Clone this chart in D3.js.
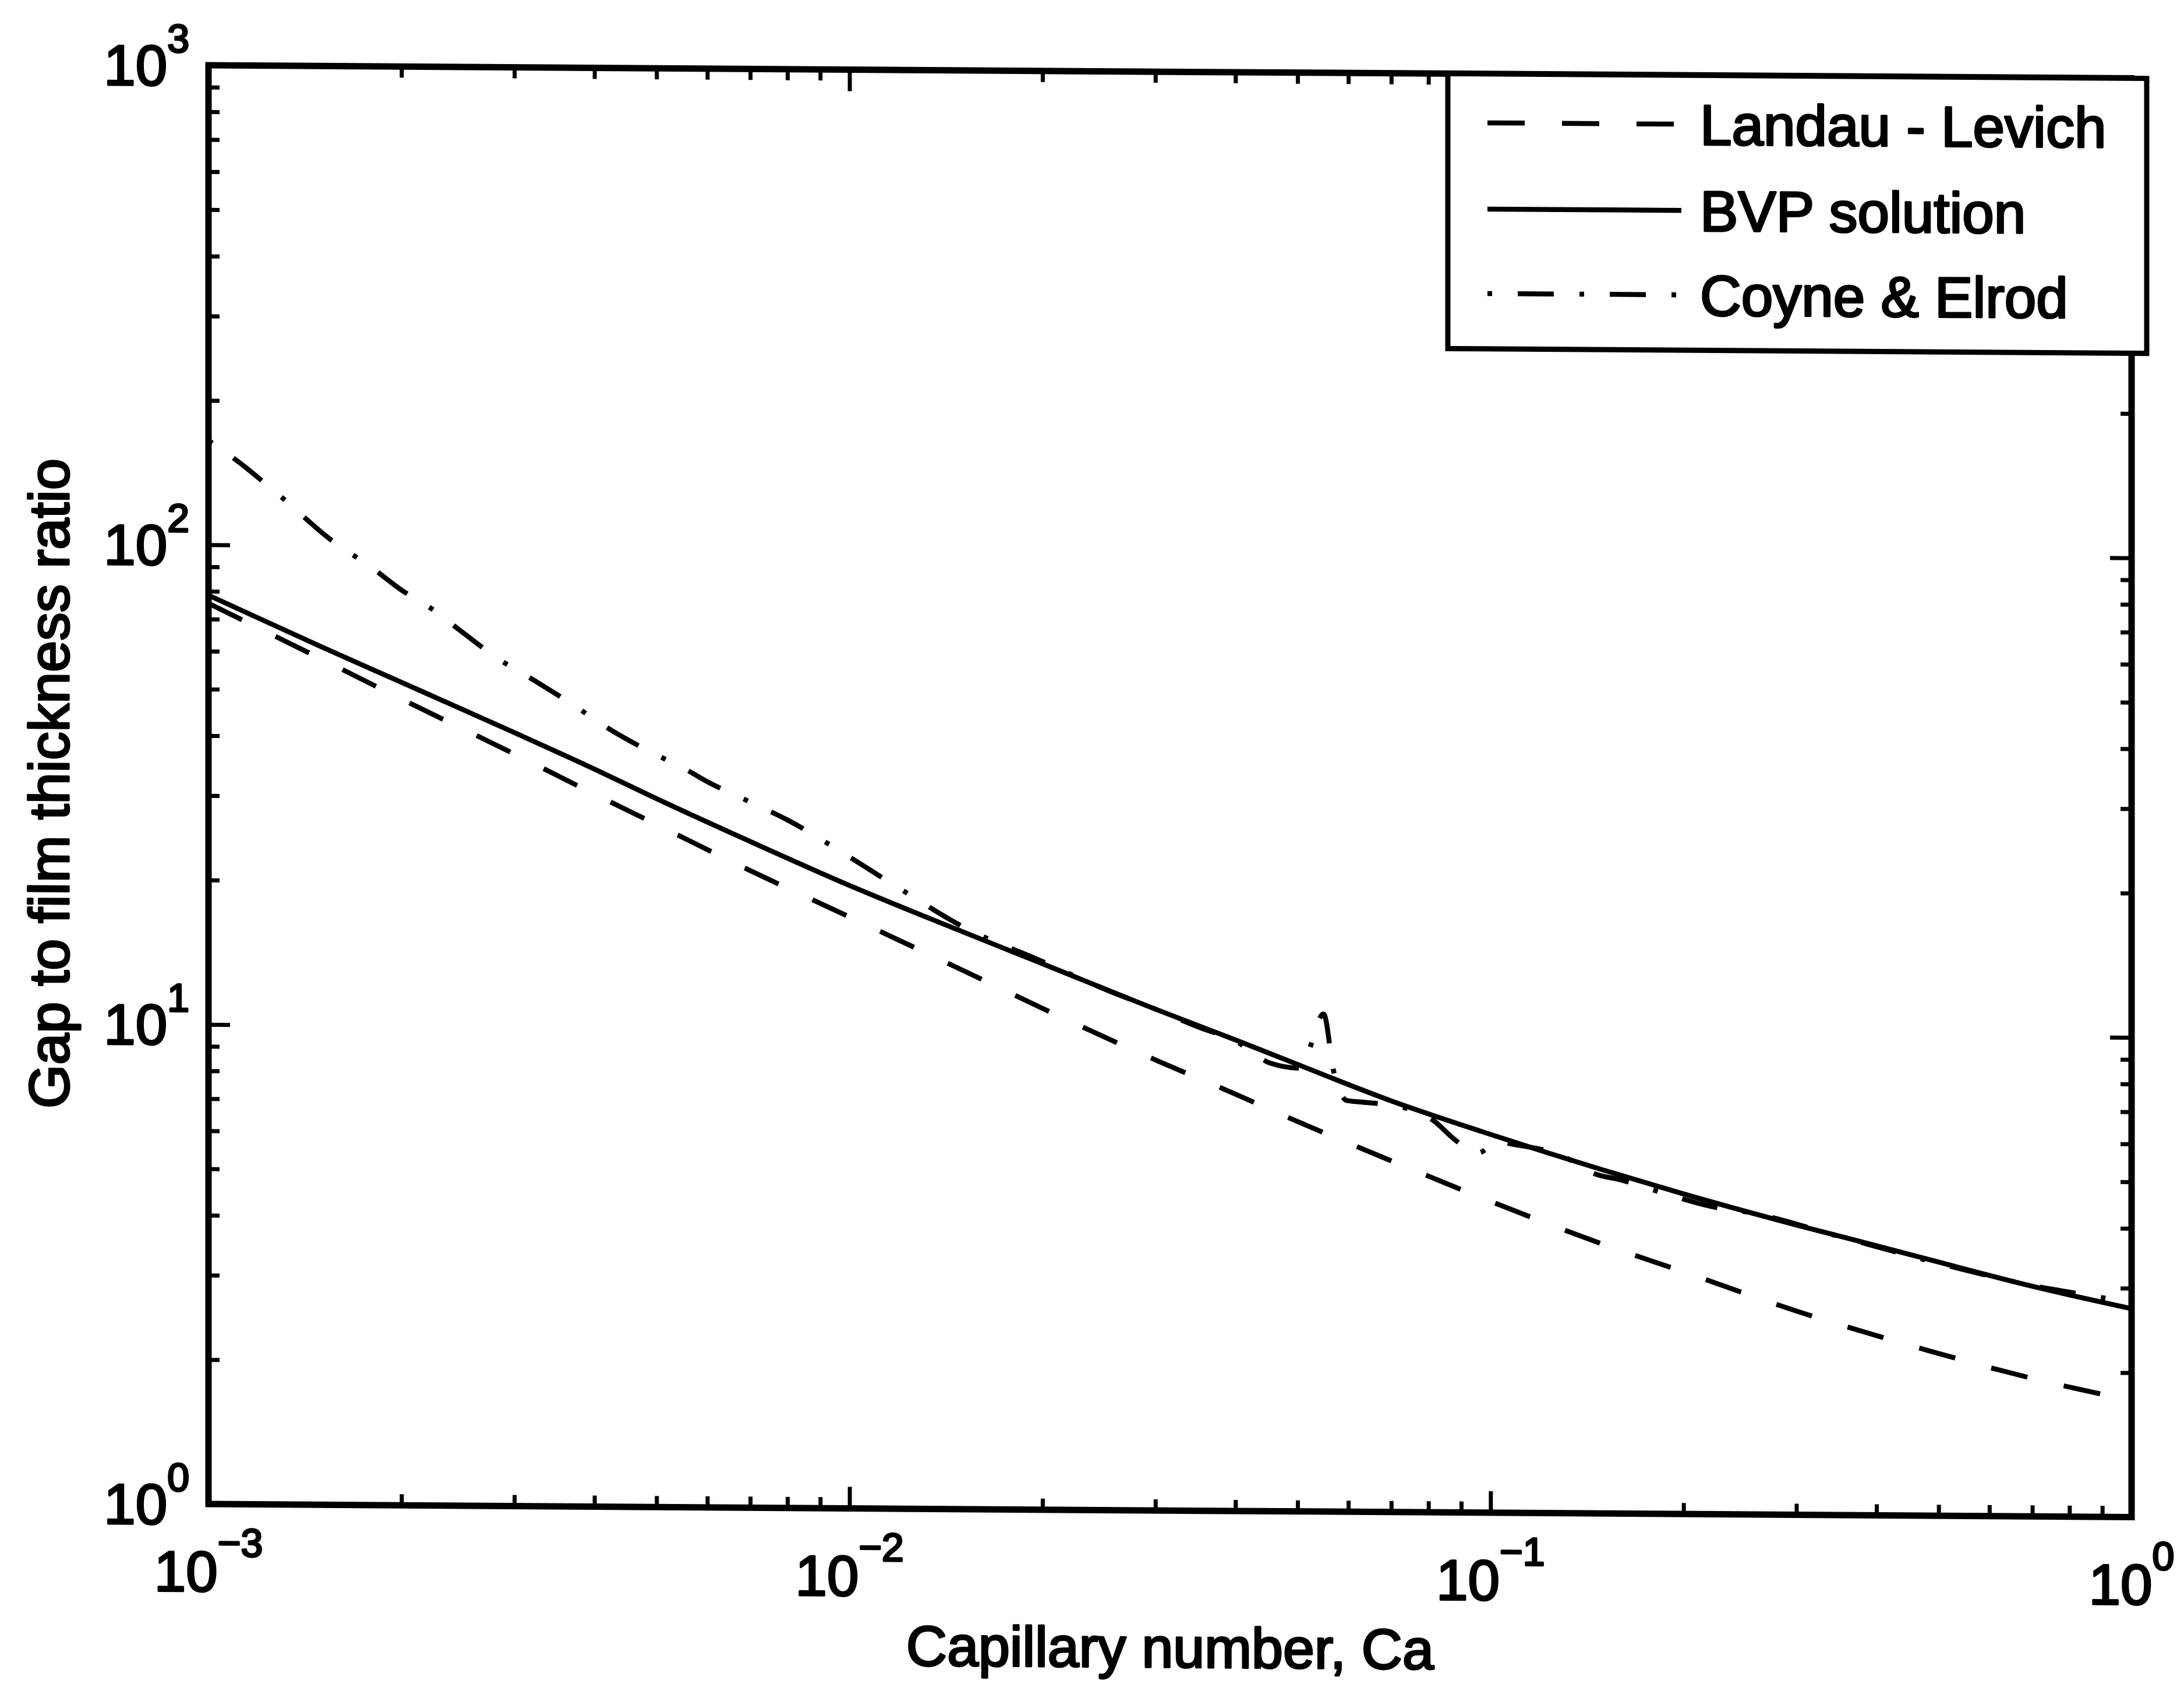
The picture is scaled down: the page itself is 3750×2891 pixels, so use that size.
<!DOCTYPE html>
<html>
<head>
<meta charset="utf-8">
<script src="https://cdn.jsdelivr.net/npm/d3@7"></script>
<style>
  html, body { margin: 0; padding: 0; background: #fff; }
  svg { display: block; }
  text { font-family: "Liberation Sans", Arial, Helvetica, sans-serif; fill: #000; stroke: #000; stroke-width: 3.4px; stroke-linejoin: round; }
</style>
</head>
<body>
<script>
// Capillary numbers at which the two analytical / numerical curves are sampled
const caGrid = [0.001, 0.0015, 0.002, 0.003, 0.004, 0.005, 0.007, 0.01, 0.015, 0.02, 0.03, 0.04,
                0.05, 0.07, 0.1, 0.15, 0.2, 0.3, 0.4, 0.5, 0.7, 1.0];
// Landau - Levich prediction of the gap to film thickness ratio
const landauLevich = [75.5, 58, 48, 37, 30.6, 26.5, 21.3, 17.1, 13.3, 11.1, 8.7, 7.4,
                      6.5, 5.4, 4.46, 3.64, 3.2, 2.66, 2.37, 2.18, 1.94, 1.75];
// Boundary value problem solution
const bvpSolution = [78.5, 61.5, 52, 41, 34.5, 30, 24.5, 19.9, 16.0, 13.75, 11.1, 9.6,
                     8.55, 7.2, 6.15, 5.2, 4.65, 4.02, 3.65, 3.38, 3.02, 2.72];
// Coyne & Elrod result (own sampling, includes the local excursion near Ca = 0.05)
const coyneCa = [0.001, 0.0011, 0.0013, 0.00155, 0.0018, 0.002, 0.0022, 0.0025, 0.0028, 0.0032,
                 0.0037, 0.0042, 0.005, 0.0055, 0.006, 0.007, 0.008, 0.01, 0.012, 0.015, 0.02,
                 0.025, 0.03, 0.035, 0.04, 0.0453, 0.0505, 0.0549, 0.0569, 0.0597, 0.063, 0.0724,
                 0.0816, 0.0878, 0.0954, 0.1033, 0.1064, 0.129, 0.1453, 0.16, 0.1875, 0.2213,
                 0.2567, 0.3527, 0.5, 0.7, 0.85, 1.0];
const coyneElrod = [165, 151, 126, 103, 90, 81, 75, 66, 59, 53,
                    47, 42, 37, 34.8, 32.6, 29.6, 27.2, 22.8, 19.6, 16.4, 13.9,
                    12.2, 11.1, 10.2, 9.55, 8.6, 8.4, 10.9, 8.3, 7.2, 7.15, 7.0,
                    6.55, 6.0, 5.62, 5.95, 5.9, 5.57, 5.11, 4.96, 4.65, 4.38,
                    4.25, 3.80, 3.36, 3.03, 2.9, 2.8];
// Decade exponents used for the major tick labels
const xTickExponents = [-3, -2, -1, 0];
const yTickExponents = [0, 1, 2, 3];
const xTitle = "Capillary number, Ca";
const yTitle = "Gap to film thickness ratio";
const legendLabels = ["Landau - Levich", "BVP solution", "Coyne & Elrod"];

// ---------------------------------------------------------------------------
const W = 3750, H = 2891;
const L = 358, R = 3660, T = 112, B = 2582;
const slant = 0.0068;                       // slight tilt of the whole figure
const slantDeg = Math.atan(slant) * 180 / Math.PI;

const svg = d3.select("body").append("svg")
  .attr("width", W).attr("height", H)
  .attr("viewBox", `0 0 ${W} ${H}`);
svg.append("rect").attr("width", W).attr("height", H).attr("fill", "#fff");

const g = svg.append("g")
  .attr("transform", `translate(0,${-L * slant}) skewY(${slantDeg})`);

const x = d3.scaleLog().domain([1e-3, 1]).range([L, R]);
const y = d3.scaleLog().domain([1, 1000]).range([B, T]);

// clip for the data curves
g.append("defs").append("clipPath").attr("id", "plotClip")
  .append("rect").attr("x", L).attr("y", T).attr("width", R - L).attr("height", B - T);

// ---- curves ----------------------------------------------------------------
const line = d3.line()
  .x(d => x(d[0])).y(d => y(d[1]))
  .curve(d3.curveMonotoneX);

const series = [
  { pts: caGrid.map((c, i) => [c, landauLevich[i]]), dash: "64,64" },
  { pts: caGrid.map((c, i) => [c, bvpSolution[i]]), dash: null },
  { pts: coyneCa.map((c, i) => [c, coyneElrod[i]]), dash: "8,44,62,44" }
];

const curves = g.append("g").attr("clip-path", "url(#plotClip)");
series.forEach(s => {
  curves.append("path")
    .attr("d", line(s.pts))
    .attr("fill", "none")
    .attr("stroke", "#000")
    .attr("stroke-width", 8.5)
    .attr("stroke-linejoin", "round")
    .attr("stroke-dasharray", s.dash);
});

// ---- ticks (inside, mirrored on all four sides) ----------------------------
function decadeMinors(e0, e1) {
  const v = [];
  for (let e = e0; e < e1; e++) for (let m = 2; m <= 9; m++) v.push(m * Math.pow(10, e));
  return v;
}
const xMinor = decadeMinors(-3, 0);
const yMinor = decadeMinors(0, 3);
const xMajor = xTickExponents.map(e => Math.pow(10, e));
const yMajor = yTickExponents.map(e => Math.pow(10, e));

function styleAxis(sel) {
  sel.select(".domain").remove();
  sel.selectAll(".tick line").attr("stroke", "#000").attr("stroke-width", 7);
  sel.selectAll(".tick text").remove();
}
const minorLen = 19, majorLen = 37;
[[xMinor, minorLen], [xMajor, majorLen]].forEach(([vals, len]) => {
  g.append("g").attr("transform", `translate(0,${B})`)
    .call(d3.axisBottom(x).tickValues(vals).tickSize(-len).tickFormat("")).call(styleAxis);
  g.append("g").attr("transform", `translate(0,${T})`)
    .call(d3.axisTop(x).tickValues(vals).tickSize(-len).tickFormat("")).call(styleAxis);
});
[[yMinor, minorLen], [yMajor, majorLen]].forEach(([vals, len]) => {
  g.append("g").attr("transform", `translate(${L},0)`)
    .call(d3.axisLeft(y).tickValues(vals).tickSize(-len).tickFormat("")).call(styleAxis);
  g.append("g").attr("transform", `translate(${R},0)`)
    .call(d3.axisRight(y).tickValues(vals).tickSize(-len).tickFormat("")).call(styleAxis);
});

// ---- frame ------------------------------------------------------------------
g.append("rect")
  .attr("x", L).attr("y", T).attr("width", R - L).attr("height", B - T)
  .attr("fill", "none").attr("stroke", "#000").attr("stroke-width", 11);

// ---- tick labels (10 with superscript exponent) -------------------------------
const baseSize = 98, supSize = 68;
function expText(e) { return e < 0 ? "\u2212" + Math.abs(e) : String(e); }

xTickExponents.forEach(e => {
  const t = g.append("text")
    .attr("x", x(Math.pow(10, e))).attr("y", B + 150)
    .attr("text-anchor", "middle")
    .attr("font-size", baseSize);
  t.append("tspan").text("10");
  t.append("tspan").attr("dy", -60).attr("font-size", supSize).text(expText(e));
});

yTickExponents.forEach(e => {
  const t = g.append("text")
    .attr("x", L - 33).attr("y", y(Math.pow(10, e)) + 35)
    .attr("text-anchor", "end")
    .attr("font-size", baseSize);
  t.append("tspan").text("10");
  t.append("tspan").attr("dy", -57).attr("font-size", supSize).text(expText(e));
});

// ---- axis titles -------------------------------------------------------------
g.append("text")
  .attr("x", (L + R) / 2).attr("y", 2851)
  .attr("text-anchor", "middle")
  .attr("font-size", 97)
  .text(xTitle);

g.append("text")
  .attr("transform", `translate(118,${(T + B) / 2}) rotate(-90)`)
  .attr("text-anchor", "middle")
  .attr("font-size", 97)
  .text(yTitle);

// ---- legend -----------------------------------------------------------------
const lg = g.append("g");
const legX = 2486, legY = T, legW = 1200, legH = 472;
lg.append("rect")
  .attr("x", legX).attr("y", legY).attr("width", legW).attr("height", legH)
  .attr("fill", "#fff").attr("stroke", "#000").attr("stroke-width", 9);

const rowY = [196, 344, 489];
const sampleX0 = 2554, sampleX1 = 2887, textX = 2919;
legendLabels.forEach((lab, i) => {
  lg.append("line")
    .attr("x1", sampleX0).attr("x2", sampleX1)
    .attr("y1", rowY[i]).attr("y2", rowY[i])
    .attr("stroke", "#000").attr("stroke-width", 8.5)
    .attr("stroke-dasharray", series[i].dash);
  lg.append("text")
    .attr("x", textX).attr("y", rowY[i] + 35)
    .attr("font-size", 98)
    .text(lab);
});
</script>
</body>
</html>
